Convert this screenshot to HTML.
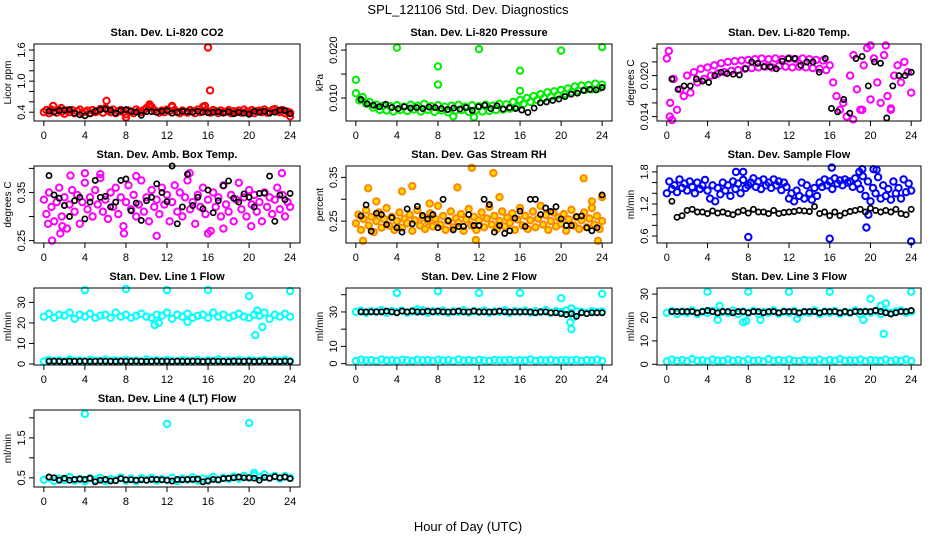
<!DOCTYPE html>
<html><head><meta charset="utf-8">
<style>
html,body{margin:0;padding:0;background:#fff;}
svg{display:block;font-family:"Liberation Sans",Arial,sans-serif;}
</style></head>
<body>
<svg id="chart" width="936" height="540" viewBox="0 0 936 540" xmlns="http://www.w3.org/2000/svg">
<text x="468" y="14" font-size="13" text-anchor="middle">SPL_121106  Std. Dev. Diagnostics</text>
<text x="468" y="531" font-size="13" text-anchor="middle">Hour of Day (UTC)</text>
</svg>
<script>
const xTicks = [0,4,8,12,16,20,24];

const co2Red = [0.40,0.44,0.38,0.45,0.42,0.39,0.44,0.41,0.37,0.43,0.40,0.44,0.38,0.42,0.45,0.39,0.41,0.43,0.38,0.44,0.40,0.42,0.46,0.39,0.48,0.43,0.40,0.45,0.38,0.42,0.44,0.40,0.36,0.43,0.41,0.38,0.45,0.42,0.40,0.44,0.48,0.52,0.50,0.44,0.41,0.39,0.43,0.40,0.45,0.42,0.50,0.44,0.40,0.38,0.43,0.41,0.39,0.44,0.42,0.38,0.45,0.40,0.50,0.43,0.41,0.39,0.44,0.42,0.38,0.43,0.40,0.41,0.44,0.38,0.42,0.40,0.43,0.39,0.45,0.41,0.40,0.44,0.38,0.42,0.43,0.40,0.45,0.39,0.41,0.44,0.46,0.42,0.40,0.44,0.38,0.41,0.39];
const co2Black = [0.42,0.40,0.43,0.44,0.45,0.38,0.35,0.33,0.37,0.42,0.45,0.46,0.44,0.38,0.43,0.45,0.42,0.40,0.34,0.41,0.41,0.40,0.42,0.43,0.38,0.40,0.42,0.41,0.40,0.42,0.40,0.39,0.40,0.41,0.38,0.41,0.37,0.40,0.38,0.36,0.42,0.40,0.42,0.38,0.40,0.44,0.43,0.37];
const co2OutT = [0.9,6.1,10.3,12.5,15.7,16.0,16.2,8.0,24.0,1.7];
const co2OutV = [0.52,0.62,0.55,0.52,0.52,1.65,0.82,0.30,0.32,0.48];

const presGreen = [0.0110,0.0095,0.0102,0.0088,0.0092,0.0080,0.0086,0.0075,0.0084,0.0074,0.0083,0.0072,0.0085,0.0075,0.0082,0.0073,0.0086,0.0076,0.0084,0.0072,0.0088,0.0075,0.0083,0.0071,0.0085,0.0074,0.0082,0.0070,0.0084,0.0073,0.0086,0.0075,0.0082,0.0071,0.0085,0.0074,0.0083,0.0072,0.0086,0.0073,0.0084,0.0075,0.0088,0.0076,0.0087,0.0078,0.0092,0.0082,0.0096,0.0088,0.0100,0.0092,0.0104,0.0096,0.0108,0.0100,0.0112,0.0103,0.0114,0.0106,0.0117,0.0108,0.0120,0.0112,0.0124,0.0115,0.0126,0.0117,0.0127,0.0118,0.0130,0.0120,0.0128];
const presBlack = [0.0097,0.0088,0.0085,0.0082,0.0087,0.0080,0.0078,0.0082,0.0079,0.0080,0.0078,0.0081,0.0080,0.0078,0.0076,0.0079,0.0077,0.0080,0.0074,0.0082,0.0085,0.0078,0.0084,0.0077,0.0080,0.0078,0.0075,0.0070,0.0079,0.0090,0.0092,0.0095,0.0098,0.0103,0.0108,0.0110,0.0116,0.0118,0.0117,0.0122];
const presOutT = [0,4,8,8,12,16,16,20,24,9.5,11.5];
const presOutV = [0.0138,0.0205,0.0166,0.0128,0.0202,0.0157,0.0115,0.0199,0.0206,0.0062,0.0060];

const tempMag = [0.0225,0.0160,0.0195,0.0150,0.0180,0.0170,0.0200,0.0175,0.0205,0.0190,0.0210,0.0195,0.0212,0.0200,0.0215,0.0203,0.0218,0.0205,0.0220,0.0207,0.0221,0.0208,0.0222,0.0210,0.0223,0.0211,0.0224,0.0212,0.0225,0.0213,0.0224,0.0212,0.0225,0.0214,0.0224,0.0213,0.0225,0.0212,0.0224,0.0213,0.0225,0.0212,0.0224,0.0211,0.0223,0.0210,0.0222,0.0208,0.0215,0.0190,0.0170,0.0150,0.0160,0.0140,0.0200,0.0230,0.0180,0.0150,0.0215,0.0240,0.0165,0.0225,0.0190,0.0160,0.0230,0.0170,0.0150,0.0200,0.0215,0.0190,0.0220,0.0205,0.0175];
const tempBlack = [0.0195,0.0180,0.0185,0.0185,0.0195,0.0192,0.0190,0.0200,0.0205,0.0203,0.0202,0.0201,0.0210,0.0220,0.0218,0.0213,0.0213,0.0210,0.0221,0.0225,0.0225,0.0215,0.0220,0.0220,0.0205,0.0225,0.0152,0.0147,0.0165,0.0145,0.0225,0.0228,0.0185,0.0220,0.0218,0.0138,0.0185,0.0200,0.0200,0.0205];
const tempOutT = [0.2,0.3,0.5,18.3,19.2,20.0,21.5,22.0];
const tempOutV = [0.0236,0.0140,0.0135,0.0136,0.0150,0.0244,0.0244,0.0152];

const ambMag = [0.335,0.305,0.350,0.320,0.290,0.330,0.360,0.300,0.340,0.275,0.325,0.355,0.310,0.345,0.285,0.330,0.370,0.315,0.340,0.300,0.355,0.325,0.380,0.310,0.335,0.295,0.350,0.320,0.360,0.305,0.340,0.280,0.330,0.365,0.315,0.345,0.300,0.325,0.375,0.310,0.340,0.290,0.355,0.320,0.335,0.305,0.360,0.325,0.345,0.290,0.330,0.365,0.310,0.350,0.300,0.340,0.375,0.315,0.330,0.285,0.345,0.320,0.360,0.305,0.335,0.270,0.350,0.320,0.340,0.300,0.365,0.325,0.310,0.345,0.290,0.335,0.370,0.315,0.340,0.300,0.355,0.325,0.345,0.310,0.330,0.290,0.350,0.320,0.340,0.305,0.335,0.360,0.315,0.345,0.300,0.330,0.320];
const ambBlack = [0.385,0.345,0.338,0.323,0.300,0.333,0.340,0.295,0.330,0.375,0.340,0.342,0.320,0.330,0.375,0.378,0.312,0.328,0.292,0.333,0.340,0.368,0.350,0.331,0.405,0.285,0.320,0.388,0.323,0.340,0.316,0.355,0.308,0.333,0.364,0.374,0.338,0.330,0.347,0.340,0.320,0.348,0.349,0.384,0.290,0.345,0.335,0.348];
const ambOutT = [0.8,1.6,1.8,4,7.8,11,14.2,16,17.5,20.2,23.2,0.4,2.6,5.5,9.0];
const ambOutV = [0.250,0.265,0.280,0.390,0.265,0.260,0.390,0.265,0.275,0.280,0.390,0.285,0.385,0.388,0.384];

const rhOrange = [0.245,0.265,0.230,0.255,0.275,0.240,0.260,0.225,0.250,0.270,0.235,0.255,0.280,0.240,0.260,0.230,0.250,0.270,0.235,0.255,0.245,0.265,0.228,0.252,0.275,0.240,0.258,0.232,0.250,0.268,0.238,0.255,0.285,0.242,0.262,0.230,0.250,0.272,0.236,0.256,0.246,0.266,0.228,0.254,0.278,0.240,0.260,0.230,0.252,0.270,0.236,0.256,0.282,0.242,0.262,0.232,0.250,0.272,0.238,0.258,0.246,0.268,0.230,0.254,0.280,0.240,0.262,0.232,0.252,0.272,0.236,0.256,0.285,0.242,0.264,0.230,0.250,0.270,0.238,0.258,0.244,0.266,0.228,0.254,0.276,0.240,0.260,0.232,0.252,0.270,0.236,0.256,0.280,0.242,0.262,0.232,0.250];
const rhBlack = [0.262,0.287,0.227,0.268,0.265,0.242,0.258,0.235,0.225,0.278,0.244,0.284,0.263,0.255,0.265,0.235,0.300,0.251,0.230,0.238,0.238,0.265,0.240,0.240,0.300,0.288,0.225,0.240,0.222,0.228,0.257,0.273,0.238,0.300,0.300,0.265,0.280,0.272,0.283,0.255,0.240,0.240,0.260,0.262,0.235,0.228,0.235,0.310];
const rhOutT = [1.2,4.5,5.5,9.9,11.3,13.4,22.2,23.0,24,0.7,11.7,23.6,2.0,7.2,14.0];
const rhOutV = [0.325,0.318,0.330,0.327,0.372,0.360,0.348,0.295,0.305,0.205,0.207,0.205,0.295,0.290,0.305];

const sfBlue = [1.40,1.62,1.48,1.55,1.42,1.66,1.50,1.58,1.45,1.62,1.52,1.40,1.60,1.48,1.55,1.65,1.45,1.30,1.55,1.25,1.50,1.38,1.60,1.45,1.55,1.35,1.62,1.48,1.58,1.40,1.65,1.50,1.55,1.60,1.68,1.52,1.62,1.48,1.66,1.55,1.60,1.50,1.66,1.55,1.62,1.46,1.60,1.52,1.30,1.40,1.25,1.45,1.35,1.60,1.30,1.55,1.40,1.28,1.50,1.35,1.60,1.52,1.66,1.55,1.62,1.48,1.68,1.58,1.64,1.55,1.66,1.60,1.62,1.52,1.68,1.58,1.48,1.72,1.35,1.62,1.25,1.50,1.40,1.70,1.30,1.55,1.35,1.48,1.28,1.62,1.40,1.50,1.30,1.66,1.42,1.58,1.45];
const sfBlack = [1.25,0.95,0.98,1.08,1.10,1.05,1.05,1.02,1.07,1.03,1.05,1.02,1.00,1.05,1.08,1.03,1.10,1.05,1.05,1.02,1.08,1.02,1.04,1.05,1.06,1.08,1.07,1.06,1.15,1.02,1.05,0.98,1.05,0.98,1.03,1.06,1.08,1.10,1.05,1.12,1.08,1.05,1.08,1.05,1.10,1.02,1.00,1.10];
const sfOutT = [8,16,24,19.6,16.2,19.2,6.8,7.5,20.3,19.8,20.6,18.9];
const sfOutV = [0.58,0.55,0.50,0.76,1.88,1.85,1.80,1.80,1.85,1.00,1.84,1.80];

const l1Hi = [23,24.5,22.5,24,23.5,25,22,24,23,24.5,22.5,23.5,24,22.5,25,23,24,22.5,23.5,24.5,23,22.5,24,23.5,25,22,24,23,24.5,22.5,23.5,24,22.5,25,23,24,22.5,23.5,24.5,23,22.5,24,23.5,25,22,24,23,24.5,23];
const l1Lo = [1.2,2.0,1.5,1.8,1.3,2.2,1.5,1.7,1.2,2.0,1.6,1.4,2.1,1.5,1.8,1.3,2.0,1.5,1.7,1.2,2.2,1.5,1.8,1.4,2.0,1.5,1.3,1.9,1.6,1.5,2.0,1.3,1.8,1.5,2.2,1.4,1.7,1.5,2.0,1.3,1.8,1.6,1.5,2.0,1.3,1.7,1.5,2.1,1.4];
const l1Black = [1.3,1.4,1.3,1.2,1.4,1.3,1.3,1.4,1.2,1.3,1.4,1.3,1.3,1.2,1.4,1.3,1.3,1.4,1.3,1.2,1.3,1.4,1.3,1.3,1.2,1.4,1.3,1.3,1.4,1.3,1.2,1.3,1.4,1.3,1.3,1.2,1.4,1.3,1.3,1.4,1.2,1.3,1.4,1.3,1.3,1.2,1.4,1.3];
const l1OutT = [4,8,12,16,20,24,10.8,11.2,20.6,21.3,20.8,14.0];
const l1OutV = [36,36.5,36,36,33,35.5,19,20,14,18,26,20.5];

const l2Hi = [30,30.8,29.5,30.5,30,31,29.5,30.5,30,30.8,29.6,30.4,30,31,29.5,30.5,30,30.8,29.5,30.4,30,31,29.6,30.5,30,30.8,29.5,30.4,30,31,29.5,30.5,30,30.8,29.6,30.4,30,31,29.5,30.5,30,30.8,29.5,30.4,30,29.5,30.5,30,30.2];
const l2Lo = [1.5,2.3,1.8,2.0,1.4,2.4,1.8,2.0,1.5,2.2,1.9,1.6,2.3,1.8,2.0,1.5,2.2,1.8,2.0,1.4,2.4,1.8,2.0,1.6,2.2,1.8,1.5,2.1,1.9,1.8,2.2,1.5,2.0,1.8,2.4,1.6,2.0,1.8,2.2,1.5,2.0,1.9,1.8,2.2,1.5,2.0,1.8,2.3,1.6];
const l2Black = [30,30,30,30,30,30.5,30,29.5,30.5,30,30.5,30,30,30.5,30,30.5,30,30,30,30.5,30,30,30.5,30,30,30,30,30.5,30,30,30,30,30,30,29.5,30,30,29.5,29.5,29,28.5,29,27.5,29.5,29,29.5,29.5,29.5];
const l2OutT = [4,8,12,16,20,24,20.9,21.0,21.2,21.0,6.0];
const l2OutV = [41,42,41,41,38,40.5,24,20,27,32,31.5];

const l3Hi = [22,22.8,21.5,22.5,22,23,21.5,22.5,22,22.8,21.6,22.4,22,23,21.5,22.5,22,22.8,21.5,22.4,22,23,21.6,22.5,22,22.8,21.5,22.4,22,23,21.5,22.5,22,22.8,21.6,22.4,22,23,21.5,22.5,22,22.8,21.5,22.4,22,22.5,23,22,22.5];
const l3Lo = [1.2,2.0,1.5,1.8,1.3,2.2,1.5,1.7,1.2,2.0,1.6,1.4,2.1,1.5,1.8,1.3,2.0,1.5,1.7,1.2,2.2,1.5,1.8,1.4,2.0,1.5,1.3,1.9,1.6,1.5,2.0,1.3,1.8,1.5,2.2,1.4,1.7,1.5,2.0,1.3,1.8,1.6,1.5,2.0,1.3,1.7,1.5,2.1,1.4];
const l3Black = [22.5,22.5,22.5,22.5,22.5,22,22.5,23,22.5,22,22.5,22.5,22,22.5,22.5,22,22.5,22.5,22,22.5,22.5,22,22.5,22.5,22.5,22,22.5,22.5,22.5,22,22.5,22.5,22.5,22,22.5,22,22.5,22.5,22.5,22.5,23,22.5,22,21.5,22,22.5,22.5,23];
const l3OutT = [4,8,12,16,20,24,5.2,5.0,7.5,7.8,21.3,21.0,21.5,9.2,12.8,19.3];
const l3OutV = [31,31,31,31,28,31,25,19,18,18.5,13,25,26,19,19.5,19];

const l4Cyan = [0.45,0.50,0.42,0.48,0.44,0.52,0.43,0.47,0.41,0.49,0.45,0.50,0.42,0.47,0.44,0.51,0.43,0.48,0.42,0.49,0.45,0.50,0.43,0.47,0.44,0.50,0.42,0.48,0.45,0.51,0.43,0.48,0.46,0.52,0.45,0.50,0.47,0.53,0.48,0.55,0.50,0.56,0.52,0.58,0.50,0.55,0.48,0.54,0.50];
const l4Black = [0.52,0.50,0.44,0.49,0.44,0.46,0.47,0.46,0.49,0.40,0.44,0.46,0.42,0.43,0.48,0.45,0.45,0.44,0.45,0.44,0.46,0.46,0.45,0.44,0.42,0.46,0.45,0.46,0.46,0.47,0.40,0.42,0.46,0.45,0.48,0.49,0.50,0.52,0.50,0.50,0.49,0.44,0.51,0.49,0.53,0.50,0.52,0.48];
const l4OutT = [4,12,20,20.5];
const l4OutV = [2.1,1.85,1.87,0.62];

const svg = document.getElementById('chart');
const NS = 'http://www.w3.org/2000/svg';
function mk(tag, attrs, parent){
  const e = document.createElementNS(NS, tag);
  for (const k in attrs) e.setAttribute(k, attrs[k]);
  (parent||svg).appendChild(e);
  return e;
}
const colX = [[34,300],[346,612],[657,921]];
const rowY = [[44,121],[166,243],[288,365],[410,487]];

function panel(cfg){
  const [L,R] = colX[cfg.col], [T,B] = rowY[cfg.row];
  const xs = v => L + (v + 0.96) / 25.92 * (R - L);
  const ys = v => B - (v - cfg.ylo) / (cfg.yhi - cfg.ylo) * (B - T);
  const g = mk('g', {});
  
  
  const ttl = mk('text', {x:(L+R)/2, y:T-8, 'font-size':11, 'font-weight':'bold', 'text-anchor':'middle'}, g);
  ttl.textContent = cfg.title;
  
  
  cfg.series.forEach(s => {
    const black = s.color === '#000';
    const sg = mk('g', {fill: s.fill || 'none', stroke: s.color, 'stroke-width': black ? 1.7 : 2.0}, g);
    
    
    s.v.forEach((val, i) => {
      const t = s.t ? s.t[i] : s.start + i * (s.end - s.start) / (s.v.length - 1);
      const c = mk('circle', {cx: xs(t).toFixed(1), cy: ys(val).toFixed(1), r: black ? 2.6 : 3.2}, sg);
      
      
    });
  });
  const box = mk('rect', {x:L, y:T, width:R-L, height:B-T, fill:'none', stroke:'#000', 'stroke-width':1}, g);
  
  
  xTicks.forEach(v => {
    mk('line', {x1:xs(v), x2:xs(v), y1:B, y2:B+5, stroke:'#000'}, g);
    const t = mk('text', {x:xs(v), y:B+18, 'font-size':11, 'text-anchor':'middle'}, g);
    t.textContent = v;
    
    
  });
  cfg.ticks.forEach((v, i) => {
    mk('line', {x1:L-5, x2:L, y1:ys(v), y2:ys(v), stroke:'#000'}, g);
    if (cfg.labels[i]) {
      const t = mk('text', {x:L-9, y:ys(v), 'font-size':11, 'text-anchor':'middle', transform:`rotate(-90 ${L-9} ${ys(v)})`}, g);
      t.textContent = cfg.labels[i];
      
      
    }
  });
  const yl = mk('text', {x:L-23, y:(T+B)/2, 'font-size':10, 'text-anchor':'middle', transform:`rotate(-90 ${L-23} ${(T+B)/2})`}, g);
  yl.textContent = cfg.ylab;
  
  
}

const BK = {color:'#000', start:0.5, end:24};
panel({name:'panel-co2', col:0,row:0,title:'Stan. Dev. Li-820 CO2',ylab:'Licor ppm',ylo:0.23,yhi:1.717,
  ticks:[0.4,0.6,0.8,1.0,1.2,1.4,1.6],labels:['0.4','','','1.0','','','1.6'],
  series:[{name:'co2-red',v:co2Red,color:'#ff0000',start:0,end:24},{name:'co2-outliers',v:co2OutV,t:co2OutT,color:'#ff0000'},Object.assign({name:'co2-black',v:co2Black},BK)]});
panel({name:'panel-pressure', col:1,row:0,title:'Stan. Dev. Li-820 Pressure',ylab:'kPa',ylo:0.00521,yhi:0.02127,
  ticks:[0.010,0.015,0.020],labels:['0.010','','0.020'],
  series:[{name:'pressure-green',v:presGreen,color:'#00ee00',start:0,end:24},{name:'pressure-outliers',v:presOutV,t:presOutT,color:'#00ee00'},Object.assign({name:'pressure-black',v:presBlack},BK)]});
panel({name:'panel-temp', col:2,row:0,title:'Stan. Dev. Li-820 Temp.',ylab:'degrees C',ylo:0.01336,yhi:0.02462,
  ticks:[0.014,0.016,0.018,0.020,0.022,0.024],labels:['0.014','','','0.020','',''],
  series:[{name:'temp-magenta',v:tempMag,color:'#ff00ff',start:0,end:24},{name:'temp-outliers',v:tempOutV,t:tempOutT,color:'#ff00ff'},Object.assign({name:'temp-black',v:tempBlack},BK)]});
panel({name:'panel-amb-temp', col:0,row:1,title:'Stan. Dev. Amb. Box Temp.',ylab:'degrees C',ylo:0.245,yhi:0.405,
  ticks:[0.25,0.30,0.35,0.40],labels:['0.25','','0.35',''],
  series:[{name:'amb-magenta',v:ambMag,color:'#ff00ff',start:0,end:24},{name:'amb-outliers',v:ambOutV,t:ambOutT,color:'#ff00ff'},Object.assign({name:'amb-black',v:ambBlack},BK)]});
panel({name:'panel-rh', col:1,row:1,title:'Stan. Dev. Gas Stream RH',ylab:'percent',ylo:0.20,yhi:0.376,
  ticks:[0.25,0.30,0.35],labels:['0.25','','0.35'],
  series:[{name:'rh-orange',v:rhOrange,color:'#ff8800',fill:'#ffdd00',start:0,end:24},{name:'rh-outliers',v:rhOutV,t:rhOutT,color:'#ff8800',fill:'#ffdd00'},Object.assign({name:'rh-black',v:rhBlack},BK)]});
panel({name:'panel-sample-flow', col:2,row:1,title:'Stan. Dev. Sample Flow',ylab:'ml/min',ylo:0.47,yhi:1.91,
  ticks:[0.6,0.8,1.0,1.2,1.4,1.6,1.8],labels:['0.6','','','1.2','','','1.8'],
  series:[{name:'sample-blue',v:sfBlue,color:'#0000ff',start:0,end:24},{name:'sample-outliers',v:sfOutV,t:sfOutT,color:'#0000ff'},Object.assign({name:'sample-black',v:sfBlack},BK)]});
panel({name:'panel-line1', col:0,row:2,title:'Stan. Dev. Line 1 Flow',ylab:'ml/min',ylo:-0.5,yhi:37.0,
  ticks:[0,10,20,30],labels:['0','10','20','30'],
  series:[{name:'line1-hi',v:l1Hi,color:'#00ffff',start:0,end:24},{name:'line1-lo',v:l1Lo,color:'#00ffff',start:0,end:24},{name:'line1-outliers',v:l1OutV,t:l1OutT,color:'#00ffff'},Object.assign({name:'line1-black',v:l1Black},BK)]});
panel({name:'panel-line2', col:1,row:2,title:'Stan. Dev. Line 2 Flow',ylab:'ml/min',ylo:-0.8,yhi:43.9,
  ticks:[0,10,20,30,40],labels:['0','10','','30',''],
  series:[{name:'line2-hi',v:l2Hi,color:'#00ffff',start:0,end:24},{name:'line2-lo',v:l2Lo,color:'#00ffff',start:0,end:24},{name:'line2-outliers',v:l2OutV,t:l2OutT,color:'#00ffff'},Object.assign({name:'line2-black',v:l2Black},BK)]});
panel({name:'panel-line3', col:2,row:2,title:'Stan. Dev. Line 3 Flow',ylab:'ml/min',ylo:-0.3,yhi:32.6,
  ticks:[0,10,20,30],labels:['0','10','20','30'],
  series:[{name:'line3-hi',v:l3Hi,color:'#00ffff',start:0,end:24},{name:'line3-lo',v:l3Lo,color:'#00ffff',start:0,end:24},{name:'line3-outliers',v:l3OutV,t:l3OutT,color:'#00ffff'},Object.assign({name:'line3-black',v:l3Black},BK)]});
panel({name:'panel-line4', col:0,row:3,title:'Stan. Dev. Line 4 (LT) Flow',ylab:'ml/min',ylo:0.27,yhi:2.197,
  ticks:[0.5,1.0,1.5,2.0],labels:['0.5','','1.5',''],
  series:[{name:'line4-cyan',v:l4Cyan,color:'#00ffff',start:0,end:24},{name:'line4-outliers',v:l4OutV,t:l4OutT,color:'#00ffff'},Object.assign({name:'line4-black',v:l4Black},BK)]});
</script>
</body></html>
